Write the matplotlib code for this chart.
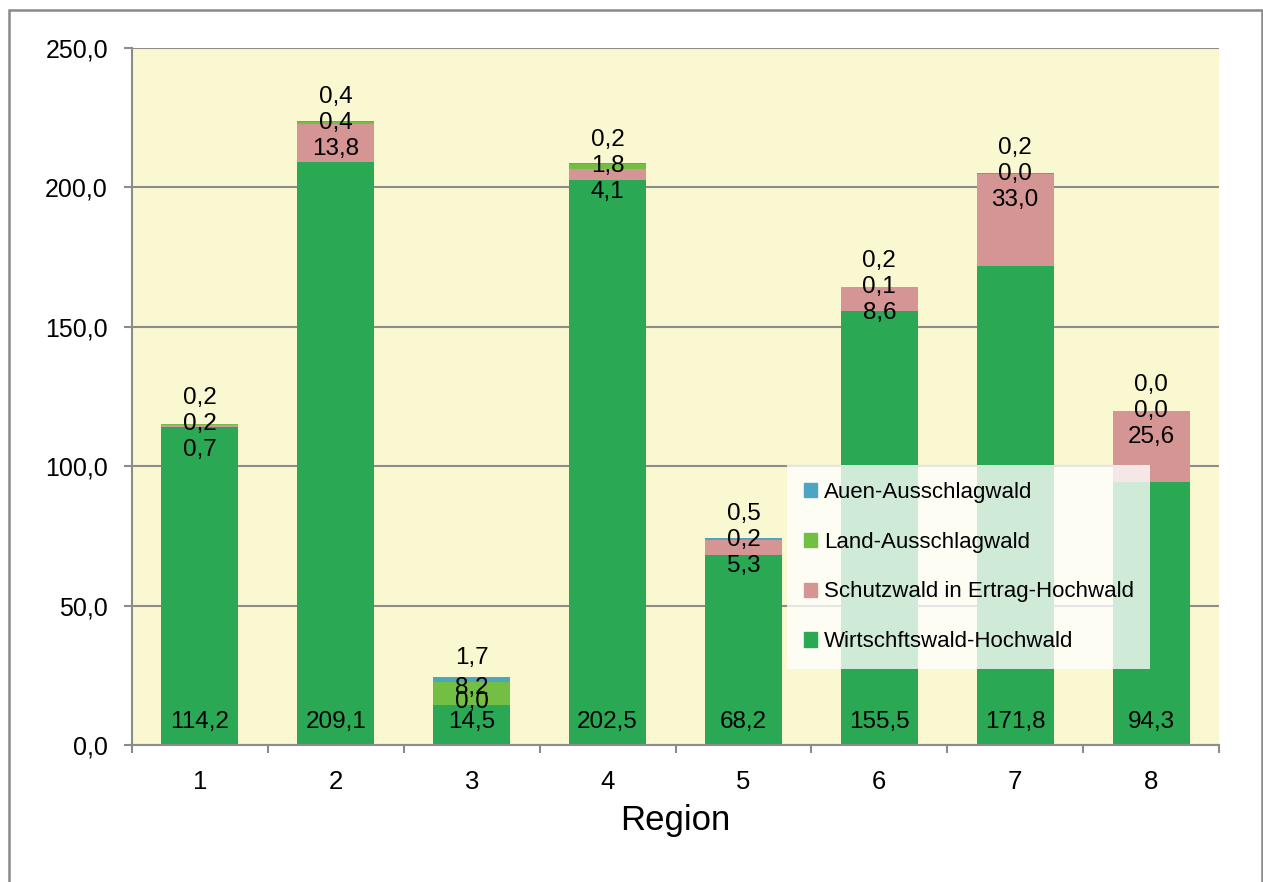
import numpy as np
import matplotlib
matplotlib.use("Agg")
import matplotlib.pyplot as plt
from matplotlib.patches import Rectangle, Patch

plt.rcParams['font.family'] = ['Liberation Sans', 'DejaVu Sans']

# Holzvorrat je Region nach Betriebsart
regions = ["1", "2", "3", "4", "5", "6", "7", "8"]
wirtschaftswald = [114.2, 209.1, 14.5, 202.5, 68.2, 155.5, 171.8, 94.3]
schutzwald = [0.7, 13.8, 0.0, 4.1, 5.3, 8.6, 33.0, 25.6]
land_ausschlag = [0.2, 0.4, 8.2, 1.8, 0.2, 0.1, 0.0, 0.0]
auen_ausschlag = [0.2, 0.4, 1.7, 0.2, 0.5, 0.2, 0.2, 0.0]

series_names = ["Wirtschftswald-Hochwald", "Schutzwald in Ertrag-Hochwald",
                "Land-Ausschlagwald", "Auen-Ausschlagwald"]
colors = ["#2ba853", "#d59595", "#72bf44", "#4ba5c3"]

W, H = 1263, 882
fig = plt.figure(figsize=(W / 100, H / 100), dpi=100)
ax = fig.add_axes([132 / W, 1 - 745 / H, (1219 - 132) / W, (745 - 48) / H])
ax.set_facecolor("#faf8d0")

x = np.arange(len(regions))
width = 0.567
values = [wirtschaftswald, schutzwald, land_ausschlag, auen_ausschlag]
bottom = np.zeros(len(regions))
for vals, col in zip(values, colors):
    ax.bar(x, vals, width, bottom=bottom, color=col, zorder=3)
    bottom += np.array(vals)

def fmt(v):
    return f"{v:.1f}".replace(".", ",")

PX = 72 / 100  # pixel -> points
label_kw = dict(ha="center", va="center", fontsize=17.5, zorder=5,
                textcoords="offset points")

# Beschriftung der oberen Segmente, um das Land-Segment gestapelt
offsets = {i: (-26, 0, 26) for i in range(len(regions))}
offsets[2] = (-9, 5, 35)
for i in range(len(regions)):
    anchor = wirtschaftswald[i] + schutzwald[i] + land_ausschlag[i] / 2
    o_s, o_l, o_a = offsets[i]
    ax.annotate(fmt(schutzwald[i]), (x[i], anchor), xytext=(0, o_s * PX), **label_kw)
    ax.annotate(fmt(land_ausschlag[i]), (x[i], anchor), xytext=(0, o_l * PX), **label_kw)
    ax.annotate(fmt(auen_ausschlag[i]), (x[i], anchor), xytext=(0, o_a * PX), **label_kw)
    ax.annotate(fmt(wirtschaftswald[i]), (x[i], 0), xytext=(0, 23 * PX), **label_kw)

ax.set_xlim(-0.5, len(regions) - 0.5)
ax.set_ylim(0, 250)
yt = np.arange(0, 251, 50)
ax.set_yticks(yt)
ax.set_yticklabels([fmt(v) for v in yt])
ax.yaxis.grid(True, color="#8c8c8c", linewidth=1.5, zorder=1)
ax.set_axisbelow(True)

ax.set_xticks(np.arange(-0.5, len(regions)), labels=[""] * (len(regions) + 1))
ax.set_xticks(x, labels=regions, minor=True)
ax.tick_params(axis="x", which="major", length=8 * PX, width=1.5, color="#8c8c8c")
ax.tick_params(axis="x", which="minor", length=0, pad=17 * PX + 8 * PX, labelsize=18.5)
ax.tick_params(axis="y", length=8 * PX, width=1.5, color="#8c8c8c", pad=16 * PX, labelsize=18)

for s in ["top", "right"]:
    ax.spines[s].set_visible(False)
for s in ["left", "bottom"]:
    ax.spines[s].set_color("#8c8c8c")
    ax.spines[s].set_linewidth(1.5)
    ax.spines[s].set_zorder(4)

ax.set_xlabel("Region", fontsize=25, labelpad=7)

handles = [Patch(color=c, label=n) for c, n in zip(colors, series_names)][::-1]
leg = ax.legend(handles=handles, loc="upper left", bbox_to_anchor=(0.6026, 0.4017),
                fontsize=16, frameon=True, fancybox=False, borderpad=0.75,
                handlelength=0.6, handleheight=0.6, handletextpad=0.3,
                labelspacing=1.3, borderaxespad=0)
frame = leg.get_frame()
frame.set_facecolor("white")
frame.set_alpha(0.78)
frame.set_edgecolor("none")
leg.set_zorder(6)

# Rahmen um die Grafik
fig.patches.append(Rectangle((9 / W, -0.05), (1262 - 9) / W, 1.05 - 10 / H,
                             transform=fig.transFigure, fill=False,
                             edgecolor="#898989", linewidth=1.8))

fig.savefig("out.png", dpi=100)
